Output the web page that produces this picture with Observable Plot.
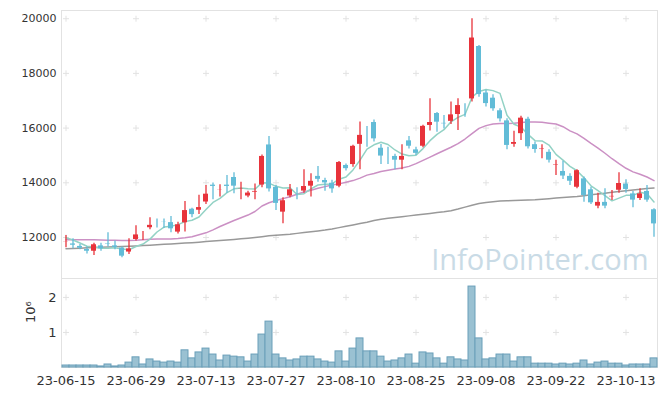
<!DOCTYPE html>
<html><head><meta charset="utf-8">
<script src="https://cdn.jsdelivr.net/npm/d3@7"></script>
<script src="https://cdn.jsdelivr.net/npm/@observablehq/plot@0.6"></script>
<style>
body{margin:0;background:#fff;}
#chart svg{display:block;}
</style></head><body><div id="chart"></div>
<script>
const dates = ["23-06-15","23-06-16","23-06-19","23-06-20","23-06-21","23-06-22","23-06-23","23-06-26","23-06-27","23-06-28",
"23-06-29","23-06-30","23-07-03","23-07-04","23-07-05","23-07-06","23-07-07","23-07-10","23-07-11","23-07-12",
"23-07-13","23-07-14","23-07-17","23-07-18","23-07-19","23-07-20","23-07-21","23-07-24","23-07-25","23-07-26",
"23-07-27","23-07-28","23-07-31","23-08-01","23-08-02","23-08-03","23-08-04","23-08-07","23-08-08","23-08-09",
"23-08-10","23-08-11","23-08-14","23-08-16","23-08-17","23-08-18","23-08-21","23-08-22","23-08-23","23-08-24",
"23-08-25","23-08-28","23-08-29","23-08-30","23-08-31","23-09-01","23-09-04","23-09-05","23-09-06","23-09-07",
"23-09-08","23-09-11","23-09-12","23-09-13","23-09-14","23-09-15","23-09-18","23-09-19","23-09-20","23-09-21",
"23-09-22","23-09-25","23-09-26","23-09-27","23-10-04","23-10-05","23-10-06","23-10-10","23-10-11","23-10-12",
"23-10-13","23-10-16","23-10-17","23-10-18","23-10-19"];
const open = [11790,11800,11710,11600,11460,11730,11800,11730,11650,11430,
11890,12120,12320,12630,12600,12580,12160,12500,13070,12960,
13260,13950,13690,13950,14230,13720,13480,13620,13880,15420,
13870,12890,13480,13780,13660,13840,14270,14120,14020,13840,
14670,14630,15370,15820,16240,15300,14990,15000,14790,15570,
15240,15300,16060,16570,16210,16210,16460,16860,17030,19020,
17320,17130,16670,16300,15370,15760,16360,15430,15180,15150,
14600,14450,14270,13800,14180,13780,13110,13320,13450,13690,
13990,13630,13390,13720,13050];
const high = [12070,11950,11740,11650,11790,11790,12170,11870,11650,11950,
12430,12220,12720,12680,12680,12770,12560,13320,13070,13540,
13900,13990,13930,14270,14370,14020,13690,13960,15020,15690,
13900,13450,13940,13820,14480,14330,14600,14170,14090,14780,
14690,15370,16220,16060,16300,15400,15300,15040,15390,15690,
15300,16100,17070,16570,16460,16950,17070,16890,20000,19020,
17380,17220,16710,16340,15880,16430,16400,15490,15390,15210,
14820,14790,14330,14480,14210,13840,13620,13780,13720,14370,
14110,13680,13780,13900,13050];
const low = [11620,11590,11550,11400,11340,11500,11650,11550,11260,11380,
11870,11890,12280,12350,12330,12170,12130,12200,12720,12840,
13210,13380,13480,13620,13600,13380,13450,13380,13820,13660,
12990,12500,13450,13380,13620,13480,14020,13690,13620,13820,
14430,14570,14480,15300,15490,14670,14670,14480,14480,15240,
15000,15280,15890,15850,15970,16130,15910,16400,16950,17130,
16770,16620,16220,15210,15300,15550,15240,15080,14880,14720,
14270,14120,13900,13780,13290,13210,13050,13050,13350,13620,
13620,13090,13350,13290,12010];
const close = [11870,11680,11570,11460,11770,11550,11710,11600,11280,11620,
12130,12180,12480,12560,12520,12280,12500,13020,12800,13130,
13620,13830,13770,13830,13840,13800,13660,13720,15000,13740,
13210,13380,13780,13730,13900,14090,14090,13960,13740,14780,
14480,15370,15770,15780,15570,14940,14940,14790,15000,15300,
15040,16100,16240,16180,16120,16520,16860,16790,19330,17190,
16860,16670,16300,15330,15510,16400,15280,15180,15270,14790,
14690,14210,14020,14480,13500,13230,13320,13110,13540,14010,
13720,13330,13630,13330,12460];
const volume = [57000,57000,57000,57000,57000,30000,86000,30000,57000,140000,
290000,86000,230000,170000,140000,170000,140000,490000,260000,430000,
540000,370000,200000,340000,310000,290000,170000,370000,940000,1310000,
370000,260000,200000,230000,310000,310000,230000,170000,140000,460000,
170000,540000,830000,460000,460000,310000,170000,200000,260000,370000,
110000,430000,400000,260000,110000,290000,230000,200000,2310000,830000,
230000,260000,370000,370000,170000,290000,290000,110000,110000,110000,
86000,110000,86000,110000,200000,86000,140000,170000,110000,110000,
57000,86000,86000,86000,260000];
const ma5 = [11990,11910,11800,11680,11650,11610,11610,11620,11580,11550,
11670,11760,11940,12200,12380,12410,12470,12580,12630,12750,
13020,13280,13430,13640,13780,13810,13780,13770,14000,13990,
13870,13810,13820,13570,13600,13780,13920,13950,13960,14130,
14210,14470,14830,15230,15390,15480,15400,15200,15050,14990,
15010,15250,15540,15770,15940,16230,16390,16500,17130,17340,
17410,17370,17270,16470,16140,16040,15770,15540,15530,15380,
15040,14830,14600,14440,14180,13890,13710,13530,13340,13440,
13540,13540,13650,13600,13300];
const ma20 = [11915,11920,11920,11920,11915,11910,11900,11895,11890,11890,
11900,11920,11935,11940,11945,11945,11960,11990,12030,12100,
12170,12280,12400,12510,12620,12720,12820,12950,13150,13270,
13350,13420,13490,13580,13660,13730,13800,13860,13920,13960,
14020,14080,14170,14280,14340,14410,14460,14500,14540,14600,
14700,14820,14940,15060,15180,15300,15430,15600,15800,15990,
16090,16150,16170,16170,16180,16200,16220,16220,16210,16180,
16150,16050,15900,15790,15620,15440,15270,15080,14880,14700,
14530,14400,14310,14210,14080];
const ma120 = [11590,11600,11610,11620,11630,11640,11650,11660,11670,11680,
11690,11705,11720,11735,11750,11765,11780,11795,11810,11830,
11850,11870,11890,11910,11930,11950,11975,12000,12030,12060,
12080,12100,12120,12150,12180,12210,12240,12270,12310,12360,
12410,12460,12510,12560,12620,12670,12700,12730,12760,12790,
12820,12850,12880,12910,12940,12980,13040,13110,13180,13240,
13280,13310,13330,13340,13350,13360,13370,13380,13400,13420,
13440,13460,13480,13500,13530,13560,13590,13620,13650,13680,
13710,13740,13760,13790,13810];
const priceTicks = [12000,14000,16000,18000,20000];
const volTicks = [1000000,2000000];
const xTicks = dates.filter((d,i)=> i%10===0);

const candles = dates.map((d,i)=>({date:d,open:open[i],high:high[i],low:low[i],close:close[i],volume:volume[i],ma5:ma5[i],ma20:ma20[i],ma120:ma120[i]}));
const upC = "#e8333b", downC = "#62bcd7";
const col = d => d.close >= d.open ? upC : downC;
const cross = {draw(ctx,size){const r=Math.sqrt(size)/1.77; ctx.moveTo(-r,0);ctx.lineTo(r,0);ctx.moveTo(0,-r);ctx.lineTo(0,r);}};
const gridMain = xTicks.flatMap(x=>priceTicks.map(y=>({x,y})));
const gridVol = xTicks.flatMap(x=>volTicks.map(y=>({x,y})));
const font = "DejaVu Sans, sans-serif";

const main = Plot.plot({
  width:665, height:278, marginTop:10, marginBottom:0, marginLeft:61, marginRight:8,
  style:{fontFamily:font, fontSize:"11px", color:"#333", background:"#fff"},
  x:{type:"band", domain:dates, padding:0, axis:null},
  y:{domain:[10500,20300], ticks:priceTicks, tickFormat:d=>String(d), tickSize:0, tickPadding:5, label:null},
  marks:[
    Plot.dot(gridMain,{x:"x",y:"y",symbol:cross,r:3,stroke:"#e2e2e2",fill:"none",strokeWidth:1}),
    Plot.text(["InfoPointer.com"],{frameAnchor:"bottom-right",dx:-9,dy:-9,fontSize:29,fill:"#c9dbe6",fontFamily:"Open Sans",textAnchor:"end",lineAnchor:"bottom"}),
    Plot.line(candles,{x:"date",y:"ma120",stroke:"#999",strokeWidth:1.5}),
    Plot.line(candles,{x:"date",y:"ma20",stroke:"#cb90c4",strokeWidth:1.5}),
    Plot.line(candles,{x:"date",y:"ma5",stroke:"#93d2c5",strokeWidth:1.5}),
    Plot.ruleX(candles,{x:"date",y1:"low",y2:"high",stroke:col,strokeWidth:1.3}),
    Plot.barY(candles,{x:"date",y1:"open",y2:"close",fill:col,inset:1}),
    Plot.frame({stroke:"#e2e2e2"})
  ]
});
const vol = Plot.plot({
  width:665, height:118, marginTop:0, marginBottom:29, marginLeft:61, marginRight:8,
  style:{fontFamily:font, fontSize:"13px", color:"#333", background:"#fff"},
  x:{type:"band", domain:dates, padding:0, ticks:xTicks, tickSize:0, tickPadding:8, label:null},
  y:{domain:[0,2540000], ticks:volTicks, tickFormat:d=>String(d/1e6), tickSize:0, tickPadding:5, label:null},
  marks:[
    Plot.frame({stroke:"#e2e2e2"}),
    Plot.dot(gridVol,{x:"x",y:"y",symbol:cross,r:3,stroke:"#e2e2e2",fill:"none",strokeWidth:1}),
    Plot.text(["10⁶"],{frameAnchor:"left",dx:-31,rotate:-90,fontSize:13,fill:"#333"}),
    Plot.barY(candles,{x:"date",y:"volume",fill:"#9ac1d2",stroke:"#6a9fb9",strokeWidth:1})
  ]
});
const c = document.getElementById("chart");
c.append(main, vol);
</script></body></html>
